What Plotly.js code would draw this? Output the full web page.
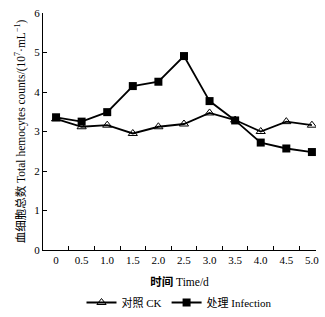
<!DOCTYPE html>
<html><head><meta charset="utf-8">
<script src="https://cdn.plot.ly/plotly-3.0.1.min.js"></script>
<style>body{margin:0;background:#fff}#c{width:325px;height:317px}</style>
</head><body><div id="c"></div>
<script>
const days = ["0","0.5","1.0","1.5","2.0","2.5","3.0","3.5","4.0","4.5","5.0"];
const ckValues = [3.32,3.12,3.16,2.95,3.12,3.19,3.47,3.29,3.00,3.25,3.16];
const infectionValues = [3.36,3.25,3.49,4.15,4.26,4.91,3.77,3.28,2.72,2.57,2.48];
const ckName = "对照 CK";
const infectionName = "处理 Infection";

const idx = days.map((d,i)=>i);
const between = days.slice(1).map((d,i)=>i+0.5);
const F = "Liberation Serif, Times New Roman, Noto Sans CJK SC, serif";

const traces = [
  {x: idx, y: ckValues, name: ckName, type:'scatter', mode:'lines+markers',
   line:{color:'#000', width:1.8},
   marker:{symbol:'triangle-up-open', size:8, color:'#000', line:{width:1}}},
  {x: idx, y: infectionValues, name: infectionName, type:'scatter', mode:'lines+markers',
   line:{color:'#000', width:1.8},
   marker:{symbol:'square', size:8, color:'#000'}}
];
const layout = {
  width:325, height:317,
  margin:{l:43, r:9, t:13, b:67},
  paper_bgcolor:'#fff', plot_bgcolor:'#fff',
  font:{family:F, size:11, color:'#000'},
  showlegend:true,
  legend:{orientation:'h', x:0.5, xanchor:'center', yref:'container', y:0.0, yanchor:'bottom',
          font:{family:F, size:11}, itemwidth:30, tracegroupgap:0},
  xaxis:{range:[-0.51,10.16], tickvals: idx, ticktext: days, ticks:'', showgrid:false,
         zeroline:false, showline:true, linecolor:'#000', linewidth:1,
         tickfont:{family:F, size:11},
         minor:{tickvals: between, ticks:'inside', ticklen:4, tickcolor:'#000', showgrid:false},
         title:{text:'<b>时间</b> Time/d', font:{family:F, size:11.5}, standoff:14}},
  yaxis:{range:[0,6], dtick:1, ticks:'inside', ticklen:4, tickcolor:'#000', showgrid:false,
         zeroline:false, showline:true, linecolor:'#000', linewidth:1,
         tickfont:{family:F, size:11},
         title:{text:'血细胞总数 Total hemocytes counts/(10<sup>7</sup>·mL<sup>−1</sup>)', font:{family:F, size:11.5}, standoff:6}}
};
Plotly.newPlot('c', traces, layout, {displayModeBar:false, staticPlot:true});
</script></body></html>
